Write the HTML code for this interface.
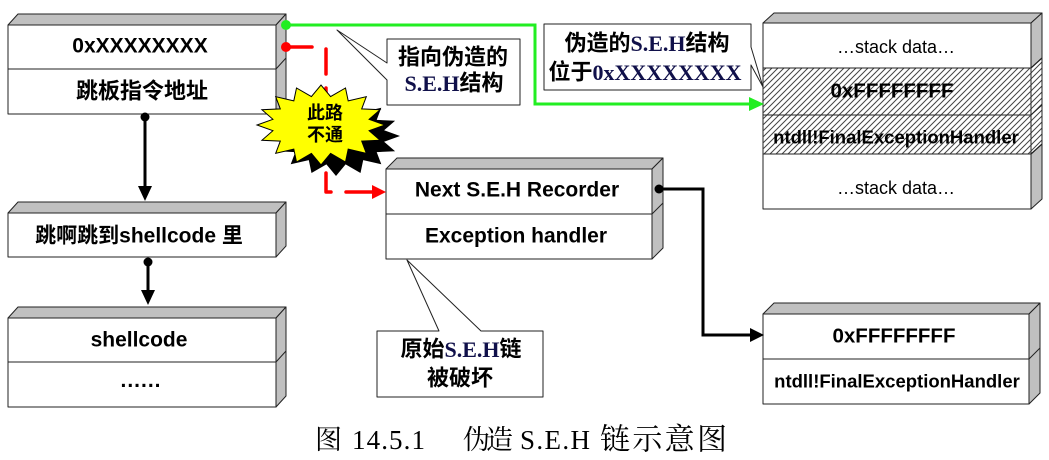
<!DOCTYPE html>
<html><head><meta charset="utf-8"><style>
html,body{margin:0;padding:0;background:#fff;}
svg{display:block;}
.b{font-family:"Liberation Sans","Noto Sans CJK SC",sans-serif;font-weight:bold;fill:#000;}
.r{font-family:"Liberation Sans",sans-serif;fill:#000;}
.c{font-family:"Liberation Sans","Noto Sans CJK SC",sans-serif;font-weight:bold;fill:#000;}
.t{font-family:"Liberation Serif",serif;font-weight:bold;fill:#10104a;}
.cap{font-family:"Liberation Serif","Noto Serif CJK SC",serif;fill:#000;}
</style></head><body>
<svg width="1049" height="460" viewBox="0 0 1049 460" xmlns="http://www.w3.org/2000/svg">
<defs>
<pattern id="h" patternUnits="userSpaceOnUse" width="6" height="6">
<path d="M0,6 L6,0 M-1,1 L1,-1 M5,7 L7,5" stroke="#444" stroke-width="1"/>
</pattern>
</defs>
<g stroke="#222" stroke-width="1" stroke-linejoin="round">
<!-- Box1 -->
<polygon points="8,25 18,14 286,14 276,25" fill="#c0c0c0"/>
<polygon points="276,25 286,14 286,103 276,114" fill="#c0c0c0"/>
<rect x="8" y="25" width="268" height="89" fill="#fff"/>
<line x1="8" y1="69" x2="276" y2="69"/><line x1="276" y1="69" x2="286" y2="58"/>
<!-- Box2 -->
<polygon points="8,213 18,202 286,202 276,213" fill="#c0c0c0"/>
<polygon points="276,213 286,202 286,246 276,257" fill="#c0c0c0"/>
<rect x="8" y="213" width="268" height="44" fill="#fff"/>
<!-- Box3 -->
<polygon points="8,318 18,307 286,307 276,318" fill="#c0c0c0"/>
<polygon points="276,318 286,307 286,396 276,407" fill="#c0c0c0"/>
<rect x="8" y="318" width="268" height="89" fill="#fff"/>
<line x1="8" y1="362" x2="276" y2="362"/><line x1="276" y1="362" x2="286" y2="351"/>
<!-- Middle -->
<polygon points="386,169 397,158 663,158 652,169" fill="#c0c0c0"/>
<polygon points="652,169 663,158 663,248 652,259" fill="#c0c0c0"/>
<rect x="386" y="169" width="266" height="90" fill="#fff"/>
<line x1="386" y1="214" x2="652" y2="214"/><line x1="652" y1="214" x2="663" y2="203"/>
<!-- Right stack -->
<polygon points="763,23 774,13 1042,13 1031,23" fill="#c0c0c0"/>
<polygon points="1031,23 1042,13 1042,58 1031,68" fill="#c0c0c0"/>
<polygon points="1031,154 1042,144 1042,199 1031,209" fill="#c0c0c0"/>
<polygon points="1031,68 1042,58 1042,144 1031,154" fill="#fff"/>
<polygon points="1031,68 1042,58 1042,144 1031,154" fill="url(#h)"/>
<rect x="763" y="23" width="268" height="186" fill="#fff"/>
<rect x="763" y="68" width="268" height="86" fill="url(#h)" stroke="none"/>
<line x1="763" y1="68" x2="1031" y2="68"/><line x1="1031" y1="68" x2="1042" y2="58"/>
<line x1="763" y1="115" x2="1031" y2="115"/><line x1="1031" y1="115" x2="1042" y2="105"/>
<line x1="763" y1="154" x2="1031" y2="154"/><line x1="1031" y1="154" x2="1042" y2="144"/>
<!-- Bottom right -->
<polygon points="763,314 774,303 1040,303 1029,314" fill="#c0c0c0"/>
<polygon points="1029,314 1040,303 1040,393 1029,404" fill="#c0c0c0"/>
<rect x="763" y="314" width="266" height="90" fill="#fff"/>
<line x1="763" y1="359" x2="1029" y2="359"/><line x1="1029" y1="359" x2="1040" y2="348"/>
<!-- Callouts -->
<path d="M387,39 H520 V105 H387 V80 L337,30 L387,63 Z" fill="#fff"/>
<path d="M544,24 H751 V47 L763,87 L751,65 V90 H544 Z" fill="#fff"/>
<path d="M377,331 H439 L407,260 L481,331 H543 V397 H377 Z" fill="#fff"/>
</g>

<!-- Left arrows -->
<circle cx="145" cy="117" r="4.5" fill="#000"/>
<line x1="145" y1="117" x2="145" y2="190" stroke="#000" stroke-width="3"/>
<polygon points="138,186 152,186 145,201" fill="#000"/>
<circle cx="148" cy="262" r="4.5" fill="#000"/>
<line x1="148" y1="262" x2="148" y2="294" stroke="#000" stroke-width="3"/>
<polygon points="141,290 155,290 148,305" fill="#000"/>

<!-- Green connector -->
<polyline points="286,25 535,25 535,104 752,104" fill="none" stroke="#22ee22" stroke-width="3"/>
<circle cx="286" cy="25" r="5" fill="#22ee22"/>
<polygon points="749,97 749,111 764,104" fill="#22ee22"/>

<!-- Black connector -->
<polyline points="659,189 703,189 703,335 752,335" fill="none" stroke="#000" stroke-width="3"/>
<circle cx="659" cy="189" r="4.5" fill="#000"/>
<polygon points="750,328 750,342 764,335" fill="#000"/>

<!-- Red dashed connector -->
<g stroke="#ff0000" stroke-width="3.5" fill="none" stroke-linecap="round" stroke-linejoin="round">
<line x1="286" y1="47" x2="312" y2="47"/>
<line x1="326" y1="49" x2="326" y2="74"/>
<line x1="326" y1="88" x2="326" y2="115"/>
<line x1="326" y1="130" x2="326" y2="158"/>
<polyline points="326,173 326,192 331,192"/>
<line x1="346" y1="192" x2="374" y2="192"/>
</g>
<circle cx="286" cy="47" r="5" fill="#ff0000"/>
<polygon points="372,185 372,199 386,192" fill="#ff0000"/>

<!-- Starburst -->
<polygon transform="translate(15,11)" fill="#000" points="385,125 369.1,130.7 380.1,140.3 361.7,141.1 366.3,153.3 348.2,149.1 345.5,162 330.6,153.4 321,165 311.4,153.4 296.5,162 293.8,149.1 275.7,153.3 280.3,141.1 261.9,140.3 272.9,130.7 257,125 272.9,119.3 261.9,109.7 280.3,108.9 275.7,96.7 293.8,100.9 296.5,88 311.4,96.6 321,85 330.6,96.6 345.5,88 348.2,100.9 366.3,96.7 361.7,108.9 380.1,109.7 369.1,119.3"/>
<polygon fill="#ffff00" stroke="#000" stroke-width="1" points="385,125 369.1,130.7 380.1,140.3 361.7,141.1 366.3,153.3 348.2,149.1 345.5,162 330.6,153.4 321,165 311.4,153.4 296.5,162 293.8,149.1 275.7,153.3 280.3,141.1 261.9,140.3 272.9,130.7 257,125 272.9,119.3 261.9,109.7 280.3,108.9 275.7,96.7 293.8,100.9 296.5,88 311.4,96.6 321,85 330.6,96.6 345.5,88 348.2,100.9 366.3,96.7 361.7,108.9 380.1,109.7 369.1,119.3"/>
<text class="c" x="325" y="113" font-size="18" text-anchor="middle" dominant-baseline="central">此路</text>
<text class="c" x="325" y="135" font-size="18" text-anchor="middle" dominant-baseline="central">不通</text>

<!-- Box texts -->
<text class="b" x="140" y="46" font-size="21" text-anchor="middle" dominant-baseline="central">0xXXXXXXXX</text>
<text class="b" x="142" y="91" font-size="22" text-anchor="middle" dominant-baseline="central">跳板指令地址</text>
<text class="b" x="139" y="236" font-size="21" text-anchor="middle" dominant-baseline="central">跳啊跳到shellcode 里</text>
<text class="b" x="139" y="340" font-size="21" text-anchor="middle" dominant-baseline="central">shellcode</text>
<text class="b" x="141" y="387" font-size="21" text-anchor="middle" letter-spacing="1">......</text>

<text class="b" x="517" y="190" font-size="21" text-anchor="middle" dominant-baseline="central">Next S.E.H Recorder</text>
<text class="b" x="516" y="236" font-size="21" text-anchor="middle" dominant-baseline="central">Exception handler</text>

<text class="r" x="896" y="47" font-size="18" text-anchor="middle" dominant-baseline="central">…stack data…</text>
<text class="b" x="892" y="91" font-size="20.5" text-anchor="middle" dominant-baseline="central">0xFFFFFFFF</text>
<text class="b" x="896" y="137" font-size="18.5" text-anchor="middle" dominant-baseline="central">ntdll!FinalExceptionHandler</text>
<text class="r" x="896" y="188" font-size="18" text-anchor="middle" dominant-baseline="central">…stack data…</text>

<text class="b" x="894" y="336" font-size="20.5" text-anchor="middle" dominant-baseline="central">0xFFFFFFFF</text>
<text class="b" x="897" y="381" font-size="18.5" text-anchor="middle" dominant-baseline="central">ntdll!FinalExceptionHandler</text>

<!-- Callout texts -->
<text class="c" x="453" y="57" font-size="22" text-anchor="middle" dominant-baseline="central">指向伪造的</text>
<text class="c" x="454" y="83" font-size="22" text-anchor="middle" dominant-baseline="central"><tspan class="t">S.E.H</tspan>结构</text>
<text class="c" x="647" y="43" font-size="22" text-anchor="middle" dominant-baseline="central">伪造的<tspan class="t">S.E.H</tspan>结构</text>
<text class="c" x="645" y="72" font-size="22" text-anchor="middle" dominant-baseline="central">位于<tspan class="t">0xXXXXXXXX</tspan></text>
<text class="c" x="461" y="349" font-size="22" text-anchor="middle" dominant-baseline="central">原始<tspan class="t">S.E.H</tspan>链</text>
<text class="c" x="460" y="378" font-size="22" text-anchor="middle" dominant-baseline="central">被破坏</text>

<!-- Caption -->
<text class="cap" x="315" y="440" font-size="27" dominant-baseline="central">图</text>
<text class="cap" x="352" y="440" font-size="27" dominant-baseline="central" textLength="73" lengthAdjust="spacing">14.5.1</text>
<text class="cap" x="463" y="440" font-size="27" dominant-baseline="central" textLength="50" lengthAdjust="spacing">伪造</text>
<text class="cap" x="520" y="440" font-size="27" dominant-baseline="central" textLength="70" lengthAdjust="spacing">S.E.H</text>
<text class="cap" x="600" y="440" font-size="30" dominant-baseline="central" textLength="127" lengthAdjust="spacing">链示意图</text>
</svg>
</body></html>
